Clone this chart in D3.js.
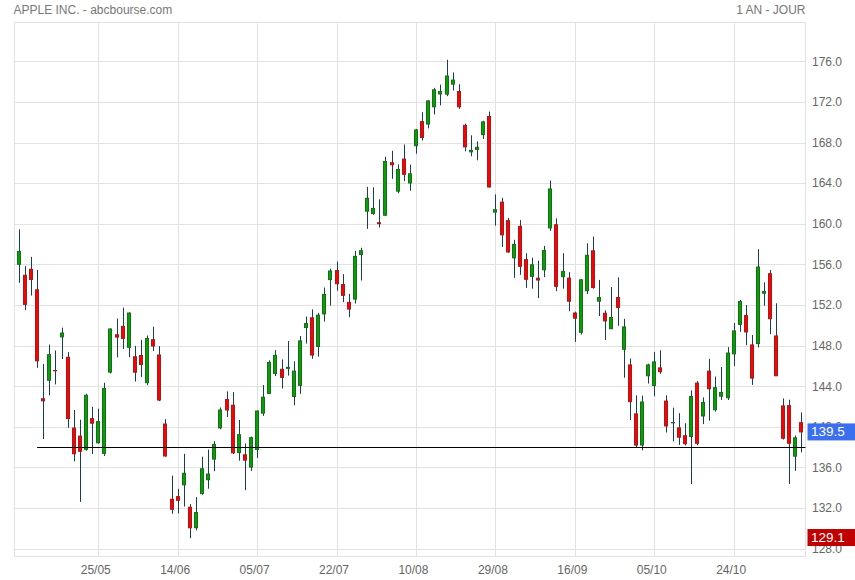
<!DOCTYPE html>
<html>
<head>
<meta charset="utf-8">
<script src="https://cdn.jsdelivr.net/npm/d3@7"></script>
<style>
  html, body { margin: 0; padding: 0; background: #ffffff; }
  svg { display: block; }
  text { font-family: Arial, "Liberation Sans", sans-serif; }
</style>
</head>
<body>
<svg id="chart" width="855" height="580"></svg>
<script>
// ---- Data (AAPL daily) ----
const dates = ["2022-05-06","2022-05-09","2022-05-10","2022-05-11","2022-05-12","2022-05-13","2022-05-16","2022-05-17","2022-05-18","2022-05-19","2022-05-20","2022-05-23","2022-05-24","2022-05-25","2022-05-26","2022-05-27","2022-05-31","2022-06-01","2022-06-02","2022-06-03","2022-06-06","2022-06-07","2022-06-08","2022-06-09","2022-06-10","2022-06-13","2022-06-14","2022-06-15","2022-06-16","2022-06-17","2022-06-21","2022-06-22","2022-06-23","2022-06-24","2022-06-27","2022-06-28","2022-06-29","2022-06-30","2022-07-01","2022-07-05","2022-07-06","2022-07-07","2022-07-08","2022-07-11","2022-07-12","2022-07-13","2022-07-14","2022-07-15","2022-07-18","2022-07-19","2022-07-20","2022-07-21","2022-07-22","2022-07-25","2022-07-26","2022-07-27","2022-07-28","2022-07-29","2022-08-01","2022-08-02","2022-08-03","2022-08-04","2022-08-05","2022-08-08","2022-08-09","2022-08-10","2022-08-11","2022-08-12","2022-08-15","2022-08-16","2022-08-17","2022-08-18","2022-08-19","2022-08-22","2022-08-23","2022-08-24","2022-08-25","2022-08-26","2022-08-29","2022-08-30","2022-08-31","2022-09-01","2022-09-02","2022-09-06","2022-09-07","2022-09-08","2022-09-09","2022-09-12","2022-09-13","2022-09-14","2022-09-15","2022-09-16","2022-09-19","2022-09-20","2022-09-21","2022-09-22","2022-09-23","2022-09-26","2022-09-27","2022-09-28","2022-09-29","2022-09-30","2022-10-03","2022-10-04","2022-10-05","2022-10-06","2022-10-07","2022-10-10","2022-10-11","2022-10-12","2022-10-13","2022-10-14","2022-10-17","2022-10-18","2022-10-19","2022-10-20","2022-10-21","2022-10-24","2022-10-25","2022-10-26","2022-10-27","2022-10-28","2022-10-31","2022-11-01","2022-11-02","2022-11-03","2022-11-04","2022-11-07","2022-11-08"];

const openP = [156.01,154.93,155.52,153.50,142.77,144.59,145.55,148.86,146.85,139.88,139.09,137.79,140.81,138.43,137.39,145.39,149.07,149.90,147.83,146.90,147.03,144.35,148.58,147.08,140.28,132.87,133.13,134.29,132.08,130.07,133.42,134.79,136.82,139.90,142.70,142.13,137.46,137.25,136.04,137.77,141.35,143.29,145.26,145.67,145.76,142.99,144.08,149.78,150.74,147.92,151.12,154.50,155.39,154.01,152.26,152.58,156.98,161.24,161.01,160.10,160.84,166.01,163.21,166.37,164.02,167.68,170.06,169.82,171.52,172.78,172.77,173.75,173.03,169.69,167.08,167.32,168.78,170.57,161.15,162.13,160.31,156.64,159.75,156.47,154.82,154.64,155.47,159.59,159.90,154.79,154.65,151.21,149.31,153.40,157.34,152.38,151.19,149.66,152.74,147.64,146.10,141.28,138.21,145.03,144.07,145.81,142.54,140.42,139.90,139.13,139.05,144.31,141.07,145.49,141.69,143.02,142.87,147.19,150.09,150.96,148.07,148.20,153.16,155.08,148.95,142.06,142.09,137.11,140.41];

const highP = [159.44,155.83,156.74,155.45,146.20,148.10,147.52,149.77,147.36,141.66,140.70,143.26,141.97,141.79,144.34,149.68,150.66,151.74,151.27,147.97,148.57,149.00,149.87,147.95,140.76,135.20,133.89,137.34,132.39,133.08,137.06,137.76,138.59,141.91,143.49,143.42,140.67,138.37,139.04,141.61,144.12,146.55,147.55,146.64,148.45,146.45,148.95,150.86,151.57,151.23,153.72,155.57,156.28,155.04,153.09,157.33,157.64,163.63,163.59,162.41,166.59,167.19,165.85,167.81,165.82,169.34,170.99,172.17,173.39,173.71,176.15,174.90,173.74,169.86,168.71,168.11,170.14,171.05,162.90,162.56,160.58,158.42,160.36,157.09,156.67,156.36,157.82,164.26,160.54,157.10,155.24,151.35,154.56,158.08,158.74,154.47,151.47,153.77,154.72,150.64,146.72,143.10,143.07,146.22,147.38,147.54,143.10,141.89,141.35,140.36,143.59,144.52,142.90,146.70,144.95,145.89,147.85,150.23,152.49,151.99,149.05,157.50,154.24,155.45,152.17,142.80,142.67,139.15,141.43];

const lowP = [154.18,151.49,152.93,145.81,138.80,143.11,144.18,146.68,139.90,136.60,132.61,137.65,137.33,138.34,137.14,145.26,146.84,147.68,146.86,144.46,144.90,144.10,147.46,142.53,137.06,131.44,131.48,132.16,129.04,129.81,133.32,133.91,135.63,139.77,140.97,137.32,136.67,133.77,135.66,136.93,141.08,143.28,145.00,143.78,145.05,142.12,143.25,148.20,146.70,146.91,150.37,151.94,153.41,152.28,150.80,152.16,154.41,159.50,160.89,159.63,160.75,164.43,163.00,164.20,163.25,166.90,168.19,169.40,170.77,171.66,172.57,173.12,171.31,167.14,166.65,166.25,168.35,163.56,159.82,157.72,157.14,154.67,154.97,153.69,153.61,152.68,154.75,159.30,153.37,153.61,151.38,148.37,149.10,153.08,153.60,150.91,148.56,149.64,149.95,144.84,140.68,138.00,137.69,144.26,143.01,145.22,139.45,138.57,138.22,138.16,134.37,138.19,140.27,140.61,141.50,142.65,142.65,146.00,149.36,148.04,144.13,147.82,151.92,149.13,145.00,138.75,134.38,135.67,137.49];

const closeP = [157.28,152.06,154.51,146.50,142.56,147.11,145.54,149.24,140.82,137.35,137.59,143.11,140.36,140.52,143.78,149.64,148.84,148.71,151.21,145.38,146.14,148.71,147.96,142.64,137.13,131.88,132.76,135.43,130.06,131.56,135.87,135.35,138.27,141.66,141.66,137.44,139.23,136.72,138.93,141.56,142.92,146.35,147.04,144.87,145.86,145.49,148.47,150.17,147.07,151.00,153.04,155.35,154.09,152.95,151.60,156.79,157.35,162.51,161.51,160.01,166.13,165.81,165.35,164.87,164.92,169.24,168.49,172.10,173.19,173.03,174.55,174.15,171.52,167.57,167.23,167.53,170.03,163.62,161.38,158.91,157.22,157.96,155.81,154.53,155.96,154.46,157.37,163.43,153.84,155.31,152.37,150.70,154.48,156.90,153.72,152.74,150.43,150.77,151.76,149.84,142.48,138.20,142.45,146.10,146.40,145.43,140.09,140.42,138.98,138.34,142.99,138.38,142.41,143.75,143.86,143.39,147.27,149.45,152.34,149.35,144.80,155.74,153.34,150.65,145.03,138.88,138.38,138.92,139.50];

const xTickDates  = ["2022-05-25","2022-06-14","2022-07-05","2022-07-22","2022-08-10","2022-08-29","2022-09-16","2022-10-05","2022-10-24"];
const xTickLabels = ["25/05","14/06","05/07","22/07","10/08","29/08","16/09","05/10","24/10"];
const yTicks = [128,132,136,140,144,148,152,156,160,164,168,172,176];

const titleText = "APPLE INC. - abcbourse.com";
const periodText = "1 AN - JOUR";
const lastPrice = 139.5;
const lowMarker = 129.1;
const supportLevel = 138.0;
const supportStart = "2022-05-11";

// ---- Layout ----
const plot = { left: 14.5, right: 805.5, top: 22.5, bottom: 556.5 };
const svg = d3.select("#chart");

const x = d3.scalePoint().domain(dates).range([19.3, 801.4]);
const y = d3.scaleLinear().domain([128, 176]).range([548.7, 61.3]);

const gridColor = "#e2e2e2";
const labelColor = "#666666";

// grid
const grid = svg.append("g");
grid.selectAll("line.h").data(yTicks).enter().append("line")
  .attr("x1", plot.left).attr("x2", plot.right)
  .attr("y1", d => Math.round(y(d)) + 0.5).attr("y2", d => Math.round(y(d)) + 0.5)
  .attr("stroke", gridColor).attr("stroke-width", 1);
grid.selectAll("line.v").data(xTickDates).enter().append("line")
  .attr("x1", d => Math.floor(x(d)) + 0.5).attr("x2", d => Math.floor(x(d)) + 0.5)
  .attr("y1", plot.top).attr("y2", plot.bottom)
  .attr("stroke", gridColor).attr("stroke-width", 1);
svg.append("rect")
  .attr("x", plot.left).attr("y", plot.top)
  .attr("width", plot.right - plot.left).attr("height", plot.bottom - plot.top)
  .attr("fill", "none").attr("stroke", gridColor).attr("stroke-width", 1);

// y labels
svg.append("g").selectAll("text").data(yTicks).enter().append("text")
  .attr("x", 812).attr("y", d => y(d) + 4.3)
  .attr("font-size", 12).attr("fill", labelColor)
  .text(d => d3.format(".1f")(d));

// x labels
svg.append("g").selectAll("text").data(xTickDates).enter().append("text")
  .attr("x", d => x(d) - 3).attr("y", 574)
  .attr("text-anchor", "middle")
  .attr("font-size", 12).attr("fill", labelColor)
  .text((d, i) => xTickLabels[i]);

// title texts
svg.append("text").attr("x", 13.5).attr("y", 13.5)
  .attr("font-size", 12).attr("fill", "#777777").text(titleText);
svg.append("text").attr("x", 805.5).attr("y", 13.5).attr("text-anchor", "end")
  .attr("font-size", 12).attr("fill", "#777777").text(periodText);

// candles
const candles = dates.map((d, i) => ({ d, o: openP[i], h: highP[i], l: lowP[i], c: closeP[i] }));
const cg = svg.append("g");
const wickColor = "#163f55";
cg.selectAll("line.wick").data(candles).enter().append("line")
  .attr("x1", d => Math.floor(x(d.d)) + 0.5).attr("x2", d => Math.floor(x(d.d)) + 0.5)
  .attr("y1", d => y(d.h)).attr("y2", d => y(d.l))
  .attr("stroke", wickColor).attr("stroke-width", 1);
cg.selectAll("rect.body").data(candles).enter().append("rect")
  .attr("x", d => Math.floor(x(d.d)) - 1.5)
  .attr("width", 3)
  .attr("y", d => y(Math.max(d.o, d.c)))
  .attr("height", d => Math.max(0.3, Math.abs(y(d.o) - y(d.c))))
  .attr("fill", d => d.c >= d.o ? "#00a400" : "#ff0000")
  .attr("stroke", d => d.c >= d.o ? "#1c6a1c" : "#a51a1a")
  .attr("stroke-width", 1);

// support line
svg.append("line")
  .attr("x1", x(supportStart) - 0.5).attr("x2", plot.right)
  .attr("y1", Math.round(y(supportLevel)) + 0.5).attr("y2", Math.round(y(supportLevel)) + 0.5)
  .attr("stroke", "#000000").attr("stroke-width", 1);

// price tags
function tag(value, color) {
  const cy = y(value);
  svg.append("rect").attr("x", 807.5).attr("y", cy - 8.5)
    .attr("width", 48).attr("height", 17).attr("fill", color);
  svg.append("text").attr("x", 811).attr("y", cy + 4.5)
    .attr("font-size", 13.5).attr("fill", "#ffffff").text(d3.format(".1f")(value));
}
tag(lastPrice, "#3a6ff0");
tag(lowMarker, "#c00000");
</script>
</body>
</html>
